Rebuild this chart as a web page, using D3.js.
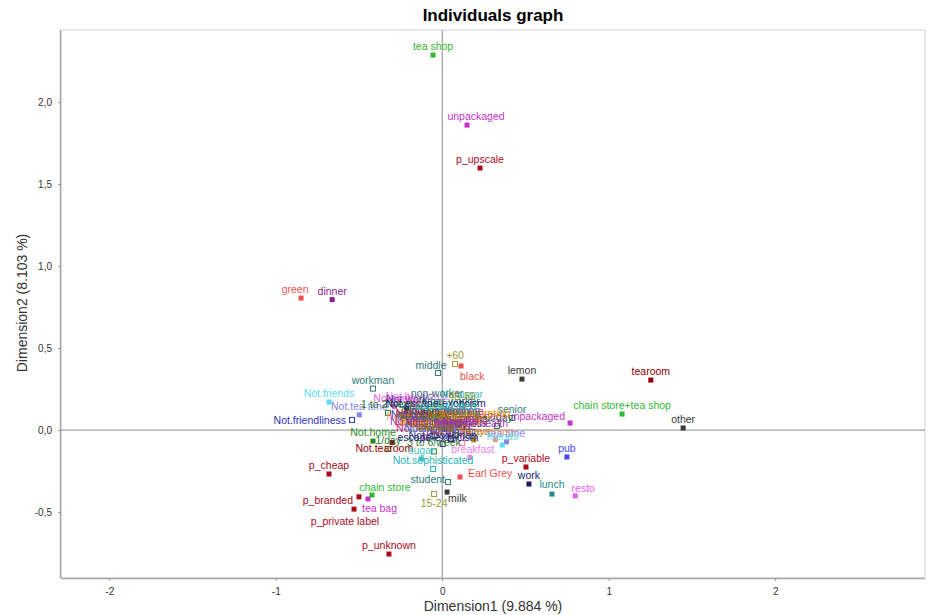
<!DOCTYPE html>
<html>
<head>
<meta charset="utf-8">
<script src="https://cdn.jsdelivr.net/npm/d3@7"></script>
<style>
html,body{margin:0;padding:0;background:#fff;}
svg{display:block;font-family:"Liberation Sans",Arial,sans-serif;}
</style>
</head>
<body>
<svg id="chart" width="928" height="615"></svg>
<script>
// ---------------- DATA ----------------
const chartTitle = "Individuals graph";
const xTitle = "Dimension1 (9.884 %)";
const yTitle = "Dimension2 (8.103 %)";
const xTicks = [-2, -1, 0, 1, 2];
const xTickLabels = ["-2", "-1", "0", "1", "2"];
const yTicks = [-0.5, 0, 0.5, 1, 1.5, 2];
const yTickLabels = ["-0,5", "0,0", "0,5", "1,0", "1,5", "2,0"];

const categories = [
  "breakfast","Not.breakfast","Not.tea time","tea time","evening","Not.evening",
  "lunch","Not.lunch","dinner","Not.dinner","always","Not.always","home","Not.home",
  "Not.work","work","Not.tearoom","tearoom","friends","Not.friends","Not.resto","resto",
  "Not.pub","pub","black","Earl Grey","green","alone","lemon","milk","other",
  "No.sugar","sugar","tea bag","tea bag+unpackaged","unpackaged",
  "chain store","chain store+tea shop","tea shop",
  "p_branded","p_cheap","p_private label","p_unknown","p_upscale","p_variable",
  // supplementary
  "F","M","employee","middle","non-worker","other worker","senior","student","workman",
  "Not.sportsman","sportsman","15-24","25-34","35-44","45-59","+60",
  "1/day","1 to 2/week","+2/day","3 to 6/week",
  "escape-exoticism","Not.escape-exoticism","Not.spirituality","spirituality",
  "healthy","Not.healthy","diuretic","Not.diuretic","friendliness","Not.friendliness",
  "iron absorption","Not.iron absorption","feminine","Not.feminine",
  "Not.sophisticated","sophisticated","No.slimming","slimming","exciting","No.exciting",
  "No.relaxing","relaxing","effect on health","No.effect on health"
];
const dim1 = [
  0.166,-0.153,-0.498,0.386,0.319,-0.167,
  0.659,-0.113,-0.661,0.050,0.190,-0.100,0.013,-0.416,
  -0.213,0.521,-0.300,1.253,0.361,-0.680,-0.286,0.799,
  -0.199,0.749,0.113,0.107,-0.848,-0.157,0.479,0.029,1.447,
  0.117,-0.125,-0.446,0.768,0.149,
  -0.422,1.080,-0.055,
  -0.500,-0.680,-0.530,-0.320,0.227,0.503,
  0.120,-0.170,-0.120,-0.025,-0.031,0.050,0.419,0.035,-0.416,
  0.003,-0.020,-0.049,0.050,-0.080,0.120,0.077,
  -0.324,-0.326,0.329,-0.050,
  0.053,-0.040,-0.050,0.100,
  0.050,-0.120,0.080,-0.110,0.110,-0.542,
  0.200,-0.020,0.130,-0.100,
  -0.055,0.020,-0.050,0.150,0.120,-0.070,
  0.070,-0.040,0.180,-0.050
];
const dim2 = [
  -0.166,0.154,0.093,-0.072,-0.058,0.030,
  -0.390,0.067,0.796,-0.060,-0.060,0.030,0.002,-0.067,
  0.134,-0.329,-0.075,0.305,-0.091,0.171,0.143,-0.401,
  0.044,-0.164,0.391,-0.286,0.805,0.069,0.311,-0.378,0.013,
  0.164,-0.175,-0.420,0.043,1.860,
  -0.396,0.098,2.287,
  -0.407,-0.268,-0.482,-0.756,1.598,-0.225,
  -0.080,0.110,0.020,0.348,0.170,0.120,0.074,-0.317,0.253,
  -0.085,0.060,-0.390,0.030,0.100,0.150,0.403,
  -0.115,0.104,0.025,-0.130,
  -0.054,0.110,-0.010,0.020,
  -0.020,0.050,-0.030,0.040,-0.010,0.062,
  0.050,-0.005,0.060,-0.045,
  -0.237,0.090,-0.006,0.020,0.070,-0.045,
  0.050,-0.030,-0.010,0.003
];
const variableOf = [
  "breakfast","breakfast","tea.time","tea.time","evening","evening",
  "lunch","lunch","dinner","dinner","always","always","home","home",
  "work","work","tearoom","tearoom","friends","friends","resto","resto",
  "pub","pub","Tea","Tea","Tea","How","How","How","How",
  "sugar","sugar","how","how","how",
  "where","where","where",
  "price","price","price","price","price","price",
  "sex","sex","SPC","SPC","SPC","SPC","SPC","SPC","SPC",
  "Sport","Sport","age_Q","age_Q","age_Q","age_Q","age_Q",
  "frequency","frequency","frequency","frequency",
  "escape.exoticism","escape.exoticism","spirituality","spirituality",
  "healthy","healthy","diuretic","diuretic","friendliness","friendliness",
  "iron.absorption","iron.absorption","feminine","feminine",
  "sophisticated","sophisticated","slimming","slimming","exciting","exciting",
  "relaxing","relaxing","effect.on.health","effect.on.health"
];
const supplementaryVariables = ["sex","SPC","Sport","age_Q","frequency","escape.exoticism",
  "spirituality","healthy","diuretic","friendliness","iron.absorption","feminine",
  "sophisticated","slimming","exciting","relaxing","effect.on.health"];

// ---------------- STYLE ----------------
const colorOf = {
  "breakfast":"#EE82EE","tea.time":"#8484F0","evening":"#E8967A","lunch":"#238B8B",
  "dinner":"#8B228B","always":"#B8860B","home":"#228B22","work":"#191970",
  "tearoom":"#8B0000","friends":"#5EDCEE","resto":"#EE5CEE","pub":"#4646EE",
  "Tea":"#EE5050","How":"#3A3A3A","sugar":"#48C4C4","how":"#C832C8",
  "where":"#32B832","price":"#AA0A1E",
  "sex":"#FF69B4","SPC":"#2F7A7A","Sport":"#2B3A8F","age_Q":"#9A9A3A","frequency":"#2E7D32",
  "escape.exoticism":"#1A1A6E","spirituality":"#CD853F","healthy":"#DC143C",
  "diuretic":"#556B2F","friendliness":"#3232C0","iron.absorption":"#FF8C00",
  "feminine":"#C71585","sophisticated":"#22B4B4","slimming":"#8B4513",
  "exciting":"#4682B4","relaxing":"#808000","effect.on.health":"#9932CC"
};
// label placement (pixel offsets from the point; default: centred above)
const labelPlacement = {
  "black":{dx:-1,dy:14,anchor:"start"},
  "middle":{dx:-7,dy:-4},
  "Not.friendliness":{dx:-6,dy:4,anchor:"end"},
  "p_branded":{dx:-6,dy:7,anchor:"end"},
  "tea bag":{dx:-6,dy:13,anchor:"start"},
  "p_private label":{dx:-9,dy:16},
  "15-24":{dx:0,dy:13},
  "milk":{dx:1,dy:10,anchor:"start"},
  "Earl Grey":{dx:8,dy:0,anchor:"start"},
  "breakfast":{dx:3,dy:-4},
  "student":{dx:-3,dy:1,anchor:"end"},
  "tea bag+unpackaged":{dx:-5,dy:-3,anchor:"end"},
  "resto":{dx:8,dy:-4},
  "green":{dx:-6,dy:-5},
  "unpackaged":{dx:9,dy:-5},
  "Not.tearoom":{dx:-8,dy:10},
  "chain store":{dx:13,dy:-4},
  "lunch":{dx:0,dy:-6},
  "escape-exoticism":{dx:-13,dy:2}
};

// ---------------- CHART ----------------
const W = 928, H = 615;
const plot = {left:61, right:925, top:30, bottom:578};
const svg = d3.select("#chart");

const x = d3.scaleLinear().domain([-2.29, 2.9]).range([plot.left, plot.right]);
const y = d3.scaleLinear().domain([-0.902, 2.44]).range([plot.bottom, plot.top]);

// frame
svg.append("rect").attr("x", plot.left).attr("y", plot.top)
  .attr("width", plot.right - plot.left).attr("height", plot.bottom - plot.top)
  .attr("fill", "#fff").attr("stroke", "#cfcfcf").attr("stroke-width", 1);

// zero lines
svg.append("line").attr("x1", x(0)).attr("x2", x(0)).attr("y1", plot.top).attr("y2", plot.bottom)
  .attr("stroke", "#8c8c8c").attr("stroke-width", 1);
svg.append("line").attr("x1", plot.left).attr("x2", plot.right).attr("y1", y(0)).attr("y2", y(0))
  .attr("stroke", "#8c8c8c").attr("stroke-width", 1);

// axes
const xAxis = d3.axisBottom(x).tickValues(xTicks)
  .tickFormat((d, i) => xTickLabels[i]).tickSize(3).tickSizeOuter(0);
const yAxis = d3.axisLeft(y).tickValues(yTicks)
  .tickFormat((d, i) => yTickLabels[i]).tickSize(3).tickSizeOuter(0);

const gx = svg.append("g").attr("transform", `translate(0,${plot.bottom})`).call(xAxis);
const gy = svg.append("g").attr("transform", `translate(${plot.left},0)`).call(yAxis);
[gx, gy].forEach(g => {
  g.select(".domain").attr("stroke", "#a8a8a8").attr("stroke-width", 1.5);
  g.selectAll(".tick line").attr("stroke", "#999");
  g.selectAll(".tick text").attr("fill", "#333").attr("font-size", "10px")
    .attr("font-family", "'Liberation Sans',Arial,sans-serif");
});
gx.select(".domain").attr("d", `M${plot.left},0.5H${plot.right}`);
gy.select(".domain").attr("d", `M-0.5,${plot.top}V${plot.bottom}`);
gx.selectAll(".tick text").attr("dy", "1.1em");
gy.selectAll(".tick text").attr("dx", "-0.3em");

// titles
svg.append("text").attr("x", (plot.left + plot.right) / 2).attr("y", 21)
  .attr("text-anchor", "middle").attr("font-size", "17px").attr("font-weight", "bold")
  .attr("fill", "#000").text(chartTitle);
svg.append("text").attr("x", (plot.left + plot.right) / 2).attr("y", 611)
  .attr("text-anchor", "middle").attr("font-size", "14px").attr("fill", "#333").text(xTitle);
svg.append("text").attr("transform", `translate(27,${(plot.top + plot.bottom) / 2 - 1}) rotate(-90)`)
  .attr("text-anchor", "middle").attr("font-size", "14px").attr("fill", "#333").text(yTitle);

// points
const data = categories.map((c, i) => ({
  label: c, d1: dim1[i], d2: dim2[i], variable: variableOf[i],
  sup: supplementaryVariables.includes(variableOf[i])
}));

const gPts = svg.append("g");
const S = 5;
gPts.selectAll("rect").data(data).join("rect")
  .attr("x", d => x(d.d1) - S / 2).attr("y", d => y(d.d2) - S / 2)
  .attr("width", S).attr("height", S)
  .attr("fill", d => d.sup ? "#fff" : colorOf[d.variable])
  .attr("stroke", d => colorOf[d.variable])
  .attr("stroke-width", d => d.sup ? 1 : 0);

const gLab = svg.append("g");
gLab.selectAll("text").data(data).join("text")
  .attr("x", d => x(d.d1) + ((labelPlacement[d.label] || {}).dx || 0))
  .attr("y", d => y(d.d2) + ((labelPlacement[d.label] || {}).dy ?? -5))
  .attr("text-anchor", d => (labelPlacement[d.label] || {}).anchor || "middle")
  .attr("font-size", "10.5px")
  .attr("fill", d => colorOf[d.variable])
  .text(d => d.label);
</script>
</body>
</html>
